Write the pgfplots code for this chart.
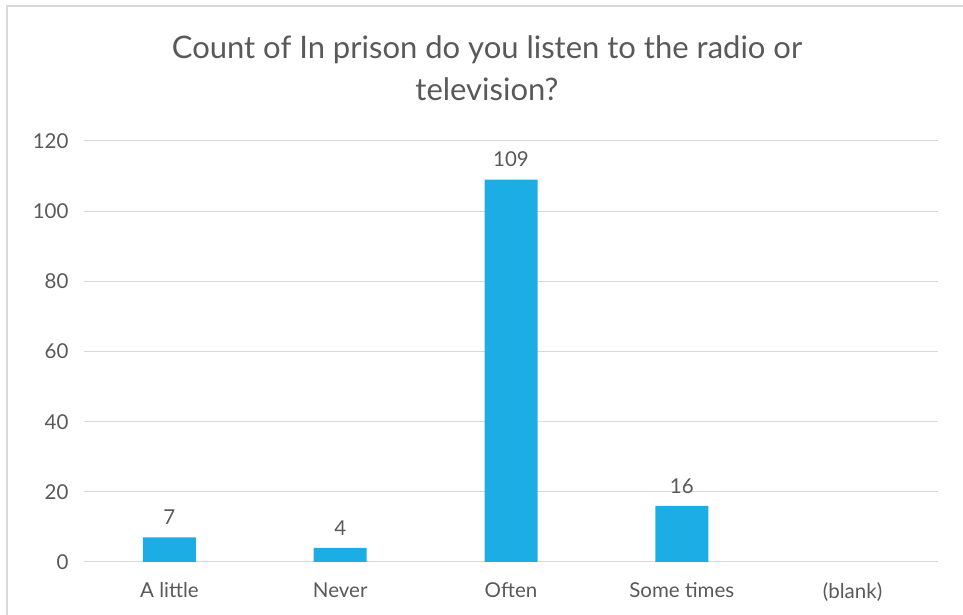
\documentclass[border=0pt]{standalone}
\usepackage{fontspec}
\setmainfont{Lato}
\usepackage{pgfplots}
\pgfplotsset{compat=1.18}
\definecolor{barblue}{HTML}{1CADE4}
\definecolor{gridgray}{HTML}{D9D9D9}
\definecolor{txtgray}{HTML}{595959}
\definecolor{framegray}{HTML}{D9D9D9}
\begin{document}
\begin{tikzpicture}[x=1pt,y=1pt]
\path[use as bounding box] (0,0) rectangle (963,615);
\draw[framegray,line width=1.2pt] (7,0) -- (7,609) -- (963,609);
\node[txtgray,font=\fontsize{31}{42}\selectfont,align=center] at (487,547) {Count of In prison do you listen to the radio or\\television?};
\begin{axis}[
  at={(84pt,53pt)}, anchor=south west,
  scale only axis, width=854pt, height=421pt,
  xmin=-0.5, xmax=4.5, ymin=0, ymax=120,
  ytick={0,20,...,120},
  xtick={0,1,2,3,4},
  xticklabels={A little,Never,Often,Some times,(blank)},
  ymajorgrids, grid style={gridgray,line width=1pt},
  axis line style={draw=none},
  axis x line*=bottom, axis y line*=left,
  x axis line style={gridgray,line width=1pt},
  major tick length=0pt,
  tick label style={txtgray,font=\fontsize{20.5}{22}\selectfont},
  /pgf/number format/assume math mode=true,
  yticklabel style={xshift=-12pt},
  xticklabel style={yshift=-17pt},
  nodes near coords,
  nodes near coords style={txtgray,font=\fontsize{20.5}{22}\selectfont,yshift=9pt},
]
\addplot[ybar, bar width=53pt, fill=barblue, draw=none] coordinates {(0,7) (1,4) (2,109) (3,16)};
\end{axis}
\end{tikzpicture}
\end{document}
